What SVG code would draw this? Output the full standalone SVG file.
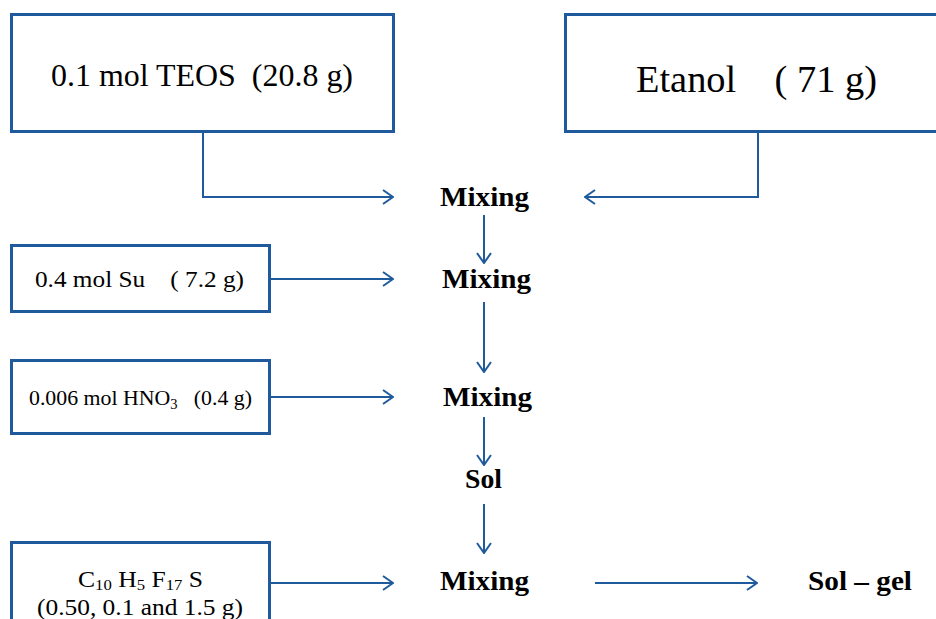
<svg xmlns="http://www.w3.org/2000/svg" width="936" height="619" viewBox="0 0 936 619">
<defs>
<marker id="ah" viewBox="0 0 12 16" refX="11" refY="8" markerWidth="12" markerHeight="16" markerUnits="userSpaceOnUse" orient="auto">
<path d="M1,1 L11,8 L1,15" fill="none" stroke="#1f5b9c" stroke-width="2"/>
</marker>
<style>
.box{fill:#fff;stroke:#1f5b9c;stroke-width:3}
.ln{fill:none;stroke:#1f5b9c;stroke-width:2;marker-end:url(#ah)}
.t{font-family:"Liberation Serif","Times New Roman",serif;fill:#000}
.b{font-family:"Liberation Serif","Times New Roman",serif;font-weight:bold;font-size:28px;fill:#000}
</style>
</defs>
<rect width="936" height="619" fill="#fff"/>
<g id="connectors">
<polyline class="ln" points="203,131 203,197 393,197"/>
<polyline class="ln" points="758,131 758,197 585,197"/>
<line class="ln" x1="484" y1="215" x2="484" y2="263"/>
<line class="ln" x1="269" y1="279" x2="393" y2="279"/>
<line class="ln" x1="484" y1="302" x2="484" y2="372"/>
<line class="ln" x1="269" y1="397" x2="393" y2="397"/>
<line class="ln" x1="484" y1="417" x2="484" y2="465"/>
<line class="ln" x1="484" y1="504" x2="484" y2="553"/>
<line class="ln" x1="269" y1="583" x2="393" y2="583"/>
<line class="ln" x1="595" y1="583" x2="757" y2="583"/>
</g>
<g id="teos">
<rect class="box" x="11.5" y="14.5" width="382" height="117"/>
<text class="t" x="51" y="86" font-size="31" textLength="302" lengthAdjust="spacingAndGlyphs" xml:space="preserve">0.1 mol TEOS  (20.8 g)</text>
</g>
<g id="etanol">
<rect class="box" x="565.5" y="14.5" width="380" height="117"/>
<text class="t" x="636" y="92" font-size="38" textLength="241" lengthAdjust="spacingAndGlyphs" xml:space="preserve">Etanol    ( 71 g)</text>
</g>
<g id="su">
<rect class="box" x="11.5" y="245.5" width="258" height="66"/>
<text class="t" x="35" y="287" font-size="24" textLength="209" lengthAdjust="spacingAndGlyphs" xml:space="preserve">0.4 mol Su    ( 7.2 g)</text>
</g>
<g id="hno3">
<rect class="box" x="11.5" y="360.5" width="258" height="73"/>
<text class="t" x="29" y="405" font-size="21" textLength="223" lengthAdjust="spacingAndGlyphs" xml:space="preserve">0.006 mol HNO<tspan font-size="14" dy="4">3</tspan><tspan dy="-4">   (0.4 g)</tspan></text>
</g>
<g id="fluoro">
<rect class="box" x="11.5" y="542.5" width="258" height="90"/>
<text class="t" x="78" y="587" font-size="23" textLength="125" lengthAdjust="spacingAndGlyphs">C<tspan font-size="15" dy="3">10</tspan><tspan dy="-3"> H</tspan><tspan font-size="15" dy="3">5</tspan><tspan dy="-3"> F</tspan><tspan font-size="15" dy="3">17</tspan><tspan dy="-3"> S</tspan></text>
<text class="t" x="37" y="615" font-size="23" textLength="206" lengthAdjust="spacingAndGlyphs">(0.50, 0.1 and 1.5 g)</text>
</g>
<g id="mix1"><text class="b" x="440" y="206" textLength="89" lengthAdjust="spacingAndGlyphs">Mixing</text></g>
<g id="mix2"><text class="b" x="442" y="288" textLength="89" lengthAdjust="spacingAndGlyphs">Mixing</text></g>
<g id="mix3"><text class="b" x="443" y="406" textLength="89" lengthAdjust="spacingAndGlyphs">Mixing</text></g>
<g id="sol"><text class="b" x="465" y="488" textLength="37" lengthAdjust="spacingAndGlyphs">Sol</text></g>
<g id="mix4"><text class="b" x="440" y="590" textLength="89" lengthAdjust="spacingAndGlyphs">Mixing</text></g>
<g id="solgel"><text class="b" x="808" y="590" textLength="104" lengthAdjust="spacingAndGlyphs">Sol – gel</text></g>
</svg>
